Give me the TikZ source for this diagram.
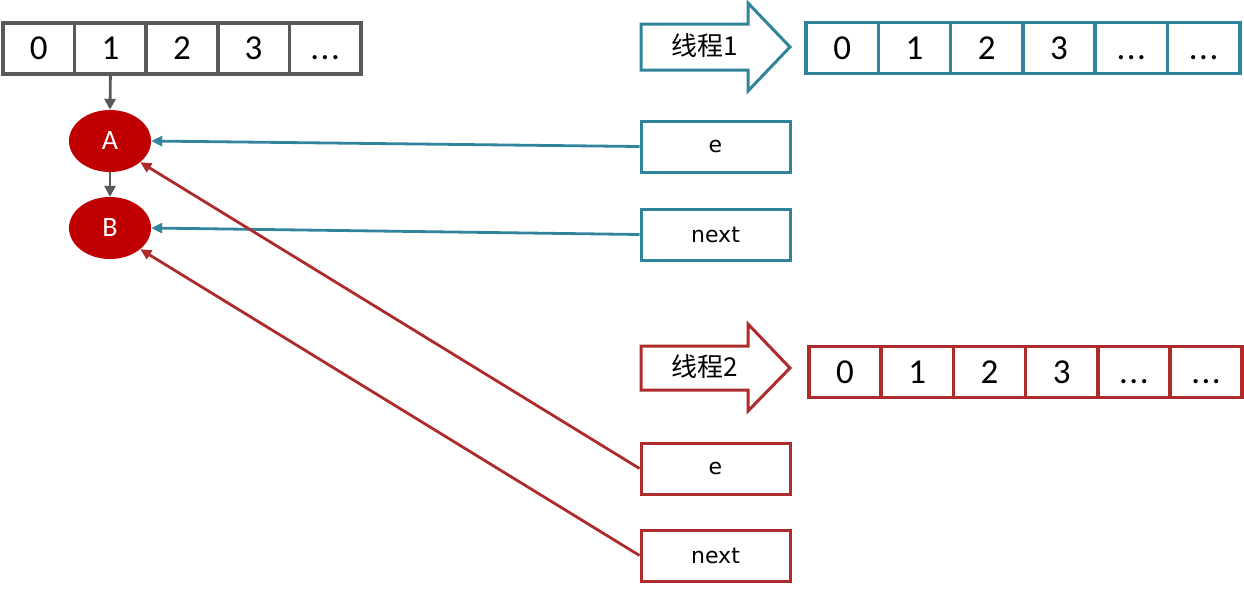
\documentclass[tikz,border=0pt]{standalone}
\usepackage{fontspec}
\setmainfont{Carlito}
\newfontfamily\cjk{Noto Sans CJK SC}
\newfontfamily\dvs{DejaVu Sans}
\usetikzlibrary{arrows.meta,shapes.geometric}
\definecolor{grayc}{HTML}{595959}
\definecolor{tealc}{HTML}{31849B}
\definecolor{redc}{HTML}{AE2B2B}
\definecolor{nodered}{HTML}{C00000}
\newcommand\myell{.\kern1.5pt.\kern1.5pt.}
\begin{document}
\begin{tikzpicture}[x=1pt,y=-1pt,
  cell/.style={draw, line width=3.5pt, minimum height=51pt, inner sep=0pt, text height=22pt, text depth=0pt, font=\fontsize{35}{37}\selectfont},
  gcell/.style={cell, draw=grayc, minimum width=71.6pt},
  tcell/.style={cell, draw=tealc, minimum width=72.3pt},
  rcell/.style={cell, draw=redc, minimum width=72.2pt},
  ptr/.style={draw, line width=3pt, minimum width=149pt, minimum height=51pt, inner sep=0pt, font=\dvs\fontsize{22}{24}\selectfont},
  ell/.style={ellipse, fill=nodered, minimum width=82pt, minimum height=62pt, inner sep=0pt, text=white, font=\fontsize{28}{30}\selectfont},
  conn/.style={line width=2.8pt, -{Triangle[length=11pt,width=10pt]}},
  blk/.style={line width=3pt, line join=miter, fill=white}
]
\useasboundingbox (0,0) rectangle (1244,592);
% top-left array
\foreach \t [count=\i from 0] in {0,1,2,3,\myell}{
  \node[gcell] (g\i) at ({3+71.6*\i+35.8},48.5) {\t};
}
\node[ell] (A) at (110,141) {A};
\node[ell] (B) at (110,228) {B};
\draw[conn, grayc, -{Triangle[length=11pt,width=11pt]}] (g1.south) -- (A.north);
\draw[conn, grayc, -{Triangle[length=11pt,width=11pt]}] (A.south) -- (B.north);

% thread 1 arrow
\draw[blk, draw=tealc] (641,24) -- (748,24) -- (748,3) -- (790,47) -- (748,91) -- (748,70) -- (641,70) -- cycle;
\node[font=\cjk\fontsize{26}{28}\selectfont, inner sep=0pt] (t1) at (705,46) {线程1};
\foreach \t [count=\i from 0] in {0,1,2,3,\myell,\myell}{
  \node[tcell] (a\i) at ({806+72.3*\i+36.15},48) {\t};
}
% thread 2 arrow
\draw[blk, draw=redc] (641,346) -- (748,346) -- (748,324) -- (790,368) -- (748,411) -- (748,390) -- (641,390) -- cycle;
\node[font=\cjk\fontsize{26}{28}\selectfont, inner sep=0pt] (t2) at (705,367) {线程2};
\foreach \t [count=\i from 0] in {0,1,2,3,\myell,\myell}{
  \node[rcell] (b\i) at ({809+72.2*\i+36.1},372) {\t};
}

% pointer boxes
\node[ptr, draw=tealc] (e1) at (715.5,146.5) {e};
\node[ptr, draw=tealc] (n1) at (715.5,234.5) {next};
\node[ptr, draw=redc] (e2) at (715.5,468.5) {e};
\node[ptr, draw=redc] (n2) at (715.5,555.5) {next};

\draw[conn, tealc] (e1.west) -- (A.east);
\draw[conn, tealc] (n1.west) -- (B.east);
\draw[conn, redc] (e2.west) -- (A.-35);
\draw[conn, redc] (n2.west) -- (B.-35);
\end{tikzpicture}
\end{document}
